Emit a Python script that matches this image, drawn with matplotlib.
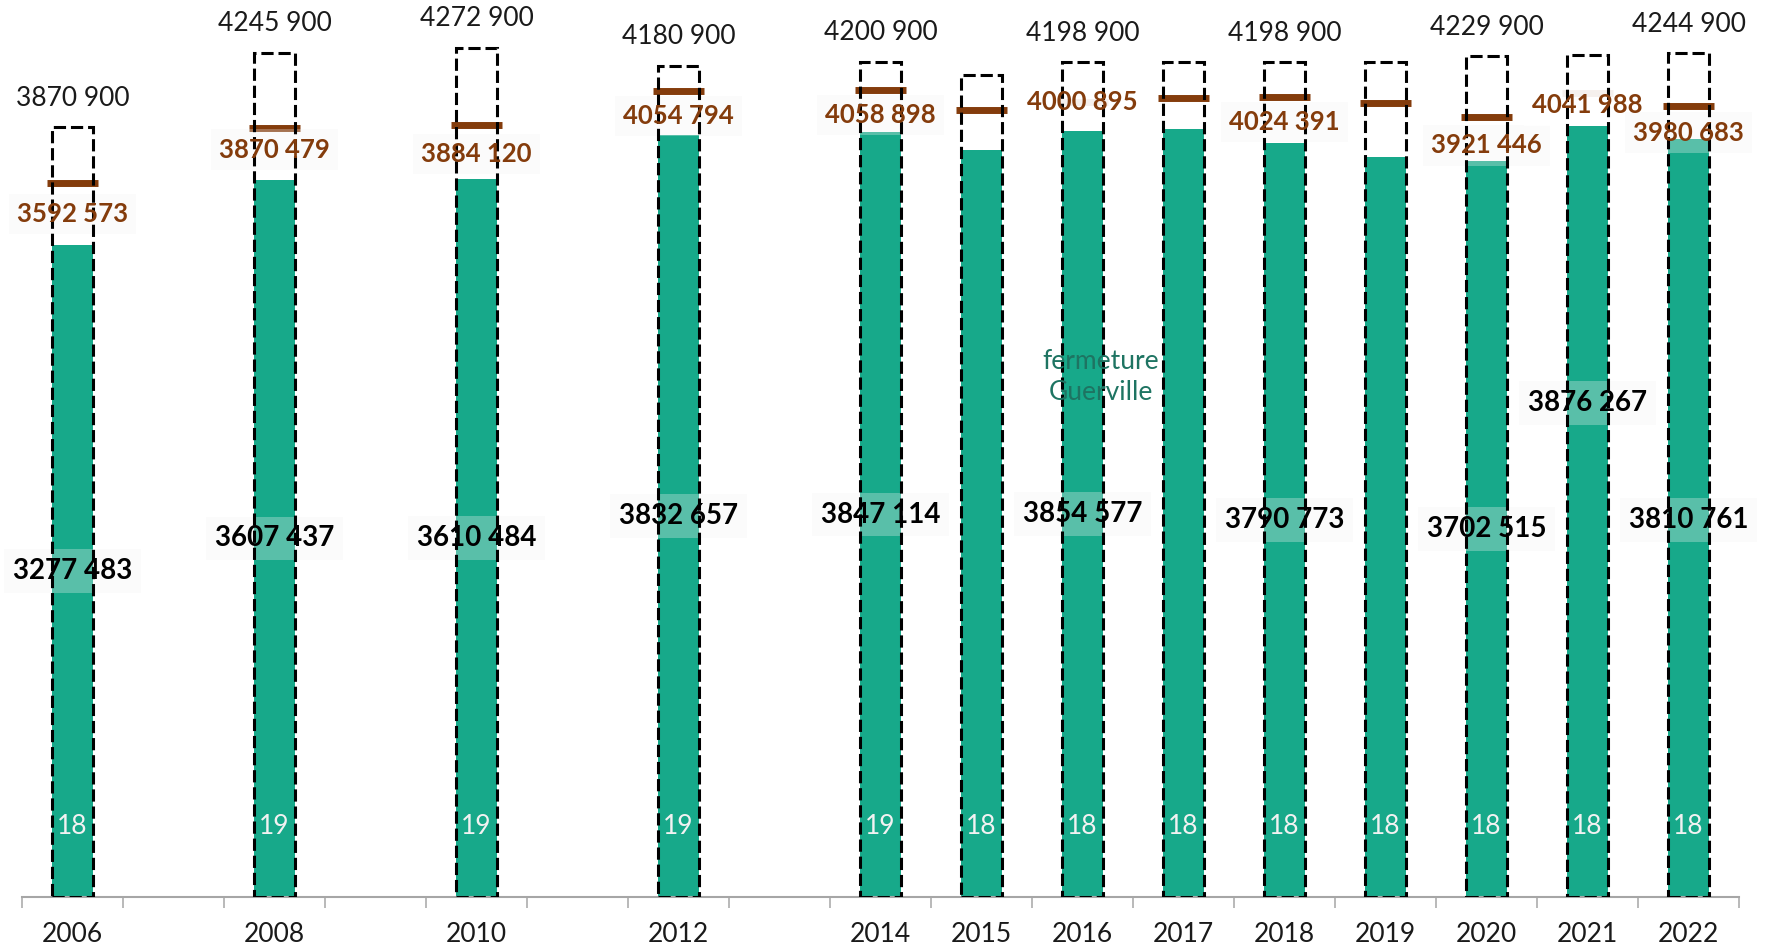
import numpy as np
import matplotlib
matplotlib.use("Agg")
import matplotlib.pyplot as plt

plt.rcParams['font.family'] = ['Lato', 'DejaVu Sans']

# ---------------- data ----------------
years = list(range(2006, 2023))
data_years = [2006, 2008, 2010, 2012, 2014, 2015, 2016, 2017, 2018, 2019, 2020, 2021, 2022]
capacity = [3870900, 4245900, 4272900, 4180900, 4200900, 4135000, 4198900,
            4198900, 4198900, 4198900, 4229900, 4235000, 4244900]
target = [3592573, 3870479, 3884120, 4054794, 4058898, 3959000, 4000895,
          4017000, 4024391, 3992000, 3921446, 4041988, 3980683]
actual = [3277483, 3607437, 3610484, 3832657, 3847114, 3757000, 3854577,
          3861000, 3790773, 3721000, 3702515, 3876267, 3810761]
counts = [18, 19, 19, 19, 19, 18, 18, 18, 18, 18, 18, 18, 18]
capacity_labelled = [2006, 2008, 2010, 2012, 2014, 2016, 2018, 2020, 2022]
target_labelled = [2006, 2008, 2010, 2012, 2014, 2016, 2018, 2020, 2021, 2022]
actual_labelled = [2006, 2008, 2010, 2012, 2014, 2016, 2018, 2020, 2021, 2022]
note_text = "fermeture\nGuerville"
note_year = 2016

# ---------------- style ----------------
GREEN = "#17A98A"
BROWN = "#843C0C"
NOTE = "#1E7462"
# label offsets (pixels, positive = down)
target_dy = {2006: 31, 2008: 22, 2010: 29, 2012: 25, 2014: 25, 2016: 0,
             2018: 25, 2020: 28, 2021: 12, 2022: 27}
target_opaque = {2016, 2021}
actual_dy = {2021: -109, 2022: 2}


def fmt(v):
    v = int(round(v))
    return f"{v // 1000} {v % 1000:03d}"


fig = plt.figure(figsize=(17.72, 9.48), dpi=100)
ax = fig.add_axes([22 / 1772, 51 / 948, 1717 / 1772, 897 / 948])
ax.set_xlim(-0.5, len(years) - 0.5)
ax.set_ylim(0, 897 * 5030)

xs = np.array([years.index(y) for y in data_years], dtype=float)
W = 0.41

ax.bar(xs, actual, width=W, color=GREEN, zorder=2)
ax.hlines(target, xs - 0.25, xs + 0.25, colors=BROWN, lw=5, zorder=3)
ax.bar(xs, capacity, width=W, fill=False, edgecolor="black", lw=2.2,
       linestyle=(0, (4, 1.6)), zorder=5)


def boxed_label(x, y, s, dy, color, weight, size, box_fc, box_z=4):
    # box (below dashed outlines) then text on top
    ax.annotate(s, (x, y), xytext=(0, -dy), textcoords="offset pixels",
                ha="center", va="center", fontsize=size, fontweight=weight,
                color=(0, 0, 0, 0), zorder=box_z,
                bbox=dict(boxstyle="square,pad=0.32", fc=box_fc, ec="none"))
    ax.annotate(s, (x, y), xytext=(0, -dy), textcoords="offset pixels",
                ha="center", va="center", fontsize=size, fontweight=weight,
                color=color, zorder=8)


for x, yr, cap, tg, ac, n in zip(xs, data_years, capacity, target, actual, counts):
    if yr in capacity_labelled:
        ax.annotate(fmt(cap), (x, cap), xytext=(0, 29), textcoords="offset pixels",
                    ha="center", va="center", fontsize=19, color="#1a1a1a", zorder=8)
    if yr in target_labelled:
        fc = (1, 1, 1, 0.93) if yr in target_opaque else (0.95, 0.95, 0.95, 0.3)
        boxed_label(x, tg, fmt(tg), target_dy.get(yr, 25), BROWN, "bold", 18.5, fc)
    if yr in actual_labelled:
        boxed_label(x, ac / 2, fmt(ac), actual_dy.get(yr, 0), "black", "bold", 20,
                    (0.95, 0.95, 0.95, 0.3))
    ax.annotate(str(n), (x, 0), xytext=(0, 71), textcoords="offset pixels",
                ha="center", va="center", fontsize=19, color="#F2F2F2", zorder=8)
    ax.annotate(str(yr), (x, 0), xytext=(0, -38), textcoords="offset pixels",
                ha="center", va="center", fontsize=19, color="#1a1a1a",
                annotation_clip=False)

nx = years.index(note_year) + 0.18
ax.text(nx, 897 * 5030 * (1 - 377 / 897), note_text, ha="center", va="center",
        fontsize=19, color=NOTE, linespacing=1.3, zorder=8)

# axes styling
for s in ["top", "right", "left"]:
    ax.spines[s].set_visible(False)
ax.spines["bottom"].set_color("#A6A6A6")
ax.spines["bottom"].set_linewidth(1.5)
ax.set_yticks([])
ax.set_xticks(np.arange(-0.5, len(years) + 0.5, 1.0))
ax.set_xticklabels([])
ax.tick_params(axis="x", length=8, width=1.1, color="#A6A6A6", direction="out")

fig.savefig("out.png", dpi=100)
